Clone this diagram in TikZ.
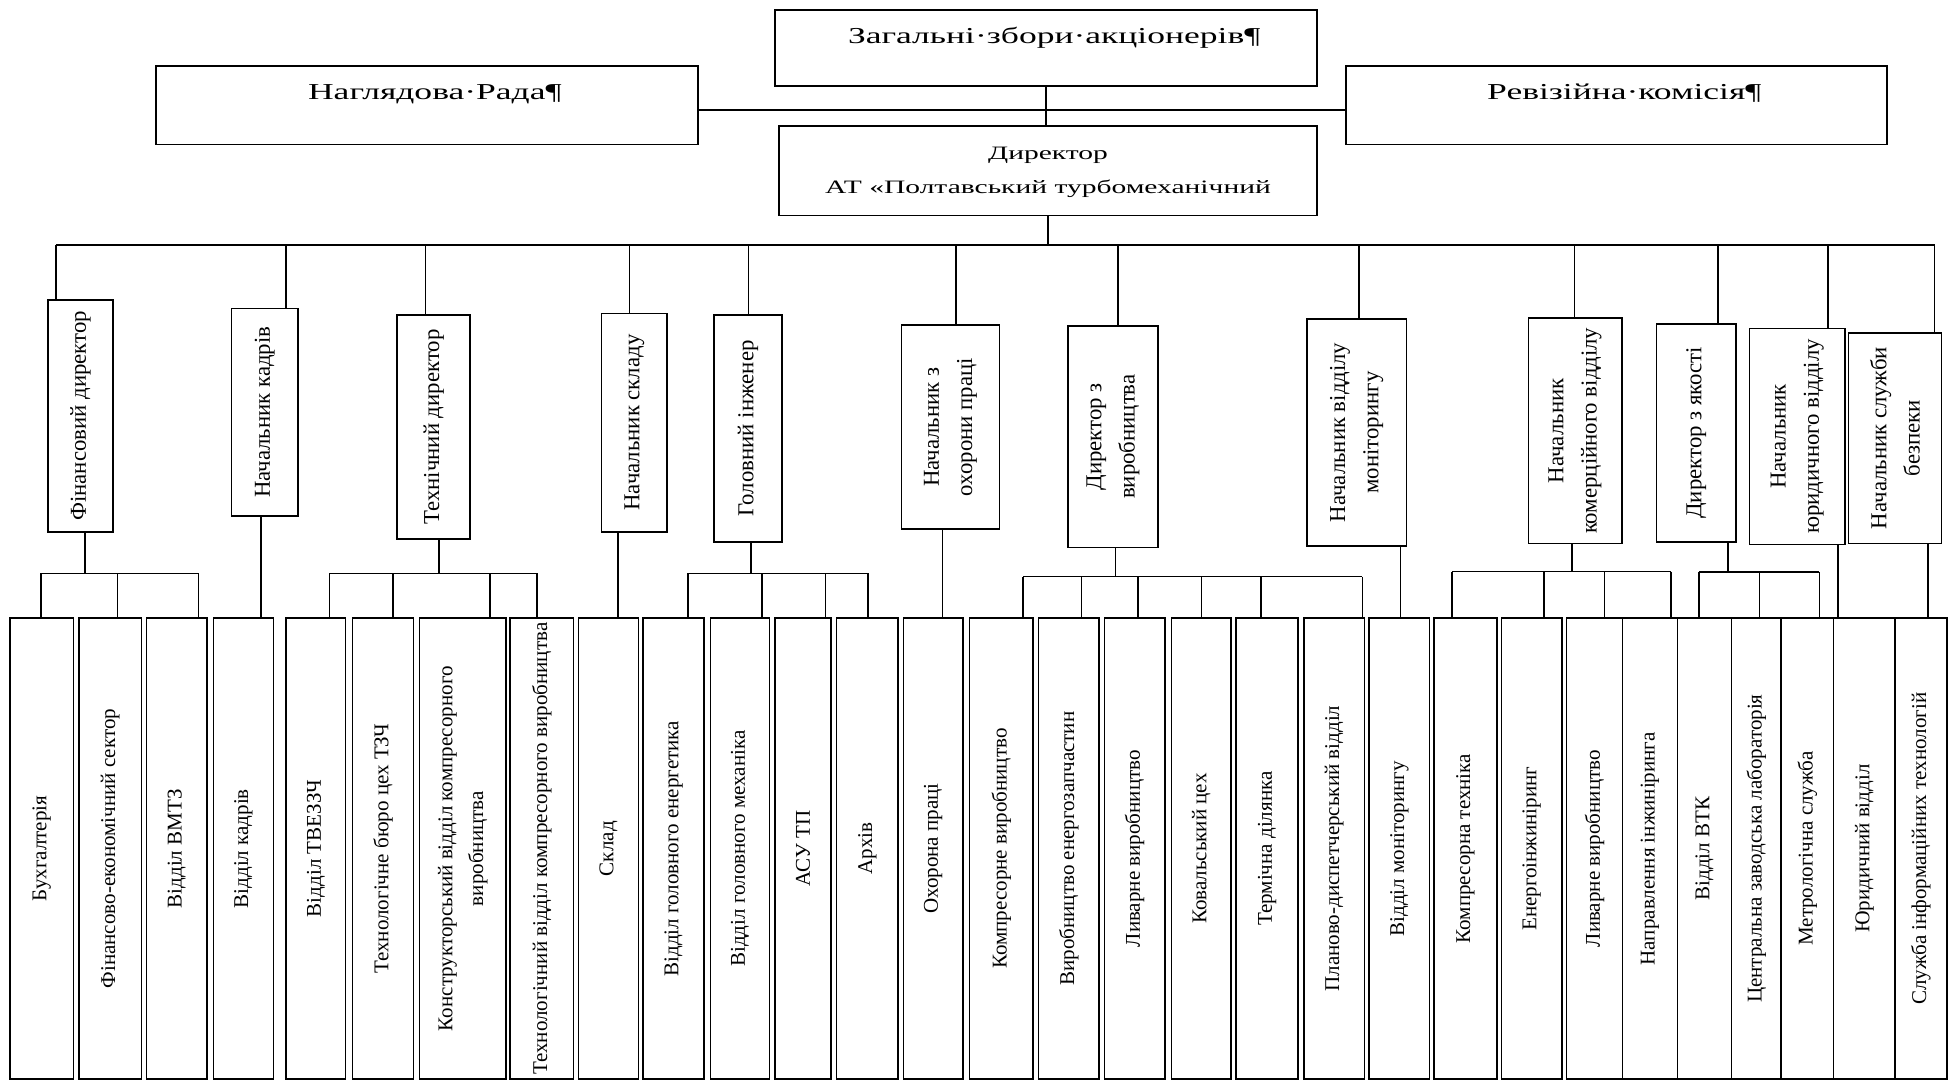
\documentclass[tikz,border=0pt]{standalone}
\usepackage{fontspec}
\setmainfont{Liberation Serif}
\usepackage{graphicx}
\tikzset{
  box/.style={draw, line width=0.9pt, inner sep=0pt, outer sep=0pt, fill=white},
  ln/.style={line width=0.9pt},
  vlow/.style={rotate=90, align=center, inner sep=0pt, font=\fontsize{12pt}{17.5pt}\selectfont},
  vmid/.style={rotate=90, align=center, inner sep=0pt, font=\fontsize{13pt}{19pt}\selectfont},
  htop/.style={anchor=base, inner sep=0pt, font=\fontsize{13pt}{16pt}\selectfont},
  hdir/.style={anchor=base, inner sep=0pt, font=\fontsize{10.8pt}{13pt}\selectfont},
}
\newcommand\obox[5]{\node[box, minimum width={(#4-#2)*0.025cm}, minimum height={(#5-#3)*0.025cm}] (#1) at ({(#2+#4)/2},{(#3+#5)/2}) {};}
\newcommand\hs[1]{\scalebox{1.56}[1]{#1}}
\newcommand\lowbox[4]{\obox{#1}{#2}{496}{#3}{866}\node[vlow] (#1t) at (#1.center) {#4};}
\newcommand\midbox[6]{\obox{#1}{#2}{#3}{#4}{#5}\node[vmid] (#1t) at (#1.center) {#6};}
\newcommand\vdrop[4]{\coordinate (#1) at (#2,#3); \draw[ln] (#1) -- (#1 |- #4.north);}
\newcommand\updrop[4]{\coordinate (#1) at (#2,#3); \draw[ln] (#4.south -| #1) -- (#1);}
\newcommand\direct[4]{\coordinate (#1) at (#2,0); \draw[ln] (#3.south -| #1) -- (#4.north -| #1);}
\begin{document}
\begin{tikzpicture}[x=0.025cm, y=-0.025cm]
\useasboundingbox (0,0) rectangle (1568,869);

% ---- top level ----
\obox{zag}{622}{8}{1057}{69}
\obox{nag}{125}{53}{560}{116}
\obox{rev}{1080}{53}{1514}{116}
\obox{dir}{625}{101}{1057}{173}
\node[htop] (zagt) at (839.5,34.7) {\hs{Загальні·збори·акціонерів\rlap{¶}}};
\node[htop] (nagt) at (342.5,79.7) {\hs{Наглядова·Рада\rlap{¶}}};
\node[htop] (revt) at (1297,79.7) {\hs{Ревізійна·комісія\rlap{¶}}};
\node[hdir] (dirt1) at (841,127.9) {\hs{Директор}};
\node[hdir] (dirt2) at (841,155.1) {\hs{АТ «Полтавський турбомеханічний}};

\coordinate (hl) at (836,88.3);
\draw[ln] (hl -| nag.east) -- (hl -| rev.west);
\draw[ln] (zag.south) -- (zag.south |- dir.north);

% ---- main bus ----
\coordinate (bL) at (44.8,196.6);
\coordinate (bR) at (1552.5,196.6);
\draw[ln] (bL) -- (bR);
\draw[ln] (dir.south) -- (dir.south |- bL);

% ---- second level ----
\midbox{fin}{38.7}{240.7}{90.6}{426.7}{Фінансовий директор}
\midbox{kadr}{185.6}{247.4}{239.3}{414.1}{Начальник кадрів}
\midbox{tekh}{318.8}{252.8}{377.2}{432.5}{Технічний директор}
\midbox{skladn}{482.7}{251.4}{535.4}{426.7}{Начальник складу}
\midbox{golov}{572.8}{252.8}{627.7}{434.7}{Головний інженер}
\midbox{okh}{723.3}{260.8}{802.1}{424.7}{Начальник з\\охорони праці}
\midbox{dvyr}{856.9}{261.6}{929.3}{439.2}{Директор з\\виробництва}
\midbox{mon}{1048.8}{256}{1128.5}{438.1}{Начальник відділу\\моніторингу}
\midbox{kom}{1226.4}{255.4}{1301.4}{436}{Начальник\\комерційного відділу}
\midbox{yak}{1329.1}{260}{1393.2}{434.7}{Директор з якості}
\midbox{yur}{1404}{263.5}{1480.4}{436.8}{Начальник\\юридичного відділу}
\midbox{bez}{1483.3}{267}{1557.9}{436}{Начальник служби\\безпеки}

\vdrop{tfin}{44.8}{196.6}{fin}
\vdrop{tkadr}{229.3}{196.6}{kadr}
\vdrop{ttekh}{341.4}{196.6}{tekh}
\vdrop{tsklad}{505}{196.6}{skladn}
\vdrop{tgolov}{600.8}{196.6}{golov}
\vdrop{tokh}{767}{196.6}{okh}
\vdrop{tdvyr}{897}{196.6}{dvyr}
\vdrop{tmon}{1090.6}{196.6}{mon}
\vdrop{tkom}{1263.5}{196.6}{kom}
\vdrop{tyak}{1378.5}{196.6}{yak}
\vdrop{tyur}{1466.7}{196.6}{yur}
\vdrop{tbez}{1552.5}{196.6}{bez}

% ---- third level ----
\lowbox{buh}{7.9}{59.1}{Бухгалтерія}
\lowbox{fes}{63.4}{113.6}{Фінансово-економічний сектор}
\lowbox{vmtz}{117.5}{166.2}{Відділ ВМТЗ}
\lowbox{vkadr}{171.2}{219.6}{Відділ кадрів}
\lowbox{tvez}{229.6}{277.3}{Відділ ТВЕЗЗЧ}
\lowbox{tbtz}{283}{331.7}{Технологічне бюро цех ТЗЧ}
\lowbox{kvkv}{336.7}{405.9}{Конструкторський відділ компресорного\\виробництва}
\lowbox{tvkv}{409.1}{460.3}{Технологічний відділ компресорного виробництва}
\lowbox{skl}{464.3}{512.3}{Склад}
\lowbox{vge}{516.2}{565}{Відділ головного енергетика}
\lowbox{vgm}{570}{617.6}{Відділ головного механіка}
\lowbox{asu}{621.9}{666.7}{АСУ ТП}
\lowbox{arkh}{671.4}{720.8}{Архів}
\lowbox{okhp}{725.1}{772.7}{Охорона праці}
\lowbox{komv}{778.1}{829}{Компресорне виробництво}
\lowbox{vez}{833.3}{882}{Виробництво енергозапчастин}
\lowbox{livv}{886.3}{934.7}{Ливарне виробництво}
\lowbox{koval}{940}{987.7}{Ковальський цех}
\lowbox{term}{992}{1041.5}{Термічна ділянка}
\lowbox{pdv}{1046.3}{1095}{Планово-диспетчерський відділ}
\lowbox{vmon}{1098.6}{1147.2}{Відділ моніторингу}
\lowbox{kt}{1150.8}{1201.2}{Компресорна техніка}
\lowbox{ei}{1204.8}{1253.5}{Енергоінжиніринг}
\lowbox{lvtwo}{1257.1}{1302.1}{Ливарне виробництво}
\lowbox{ni}{1302.1}{1346}{Направлення інжиніринга}
\lowbox{vtk}{1346}{1389.6}{Відділ ВТК}
\lowbox{czl}{1389.6}{1429.3}{Центральна заводська лабораторія}
\lowbox{ms}{1429.3}{1471.4}{Метрологічна служба}
\lowbox{yv}{1471.4}{1520.7}{Юридичний відділ}
\lowbox{sit}{1520.7}{1562.2}{Служба інформаційних технологій}

% ---- sub-buses ----
% finance
\updrop{fs}{68.1}{460.1}{fin}
\vdrop{fs1}{33}{460.1}{buh}
\vdrop{fs2}{94.2}{460.1}{fes}
\vdrop{fs3}{159.4}{460.1}{vmtz}
\draw[ln] (fs1) -- (fs3);
% personnel
\direct{ks}{209.6}{kadr}{vkadr}
% technical
\updrop{ts}{352.1}{460.1}{tekh}
\vdrop{ts1}{264.4}{460.1}{tvez}
\vdrop{ts2}{315.2}{460.1}{tbtz}
\vdrop{ts3}{393.3}{460.1}{kvkv}
\vdrop{ts4}{431}{460.1}{tvkv}
\draw[ln] (ts1) -- (ts4);
% warehouse
\direct{ss}{496}{skladn}{skl}
% chief engineer
\updrop{gs}{602.6}{460.1}{golov}
\vdrop{gs1}{552.1}{460.1}{vge}
\vdrop{gs2}{611.5}{460.1}{vgm}
\vdrop{gs3}{662.4}{460.1}{asu}
\vdrop{gs4}{696.4}{460.1}{arkh}
\draw[ln] (gs1) -- (gs4);
% labour protection
\direct{os}{756.3}{okh}{okhp}
% production
\updrop{ds}{895.3}{462.7}{dvyr}
\vdrop{ds1}{821.1}{462.7}{komv}
\vdrop{ds2}{867.7}{462.7}{vez}
\vdrop{ds3}{913.2}{462.7}{livv}
\vdrop{ds4}{964}{462.7}{koval}
\vdrop{ds5}{1012}{462.7}{term}
\vdrop{ds6}{1093.2}{462.7}{pdv}
\draw[ln] (ds1) -- (ds6);
% monitoring
\direct{ms0}{1123.8}{mon}{vmon}
% commercial
\updrop{cs}{1261.4}{458.7}{kom}
\vdrop{cs1}{1165.2}{458.7}{kt}
\vdrop{cs2}{1239.1}{458.7}{ei}
\vdrop{cs3}{1287.7}{458.7}{lvtwo}
\vdrop{cs4}{1341}{458.7}{ni}
\draw[ln] (cs1) -- (cs4);
% quality
\updrop{qs}{1386.7}{458.9}{yak}
\vdrop{qs1}{1363.3}{458.9}{vtk}
\vdrop{qs2}{1412}{458.9}{czl}
\vdrop{qs3}{1459.9}{458.9}{ms}
\draw[ln] (qs1) -- (qs3);
% legal
\direct{ys}{1475}{yur}{yv}
% security
\direct{bs}{1547}{bez}{sit}
\end{tikzpicture}
\end{document}
